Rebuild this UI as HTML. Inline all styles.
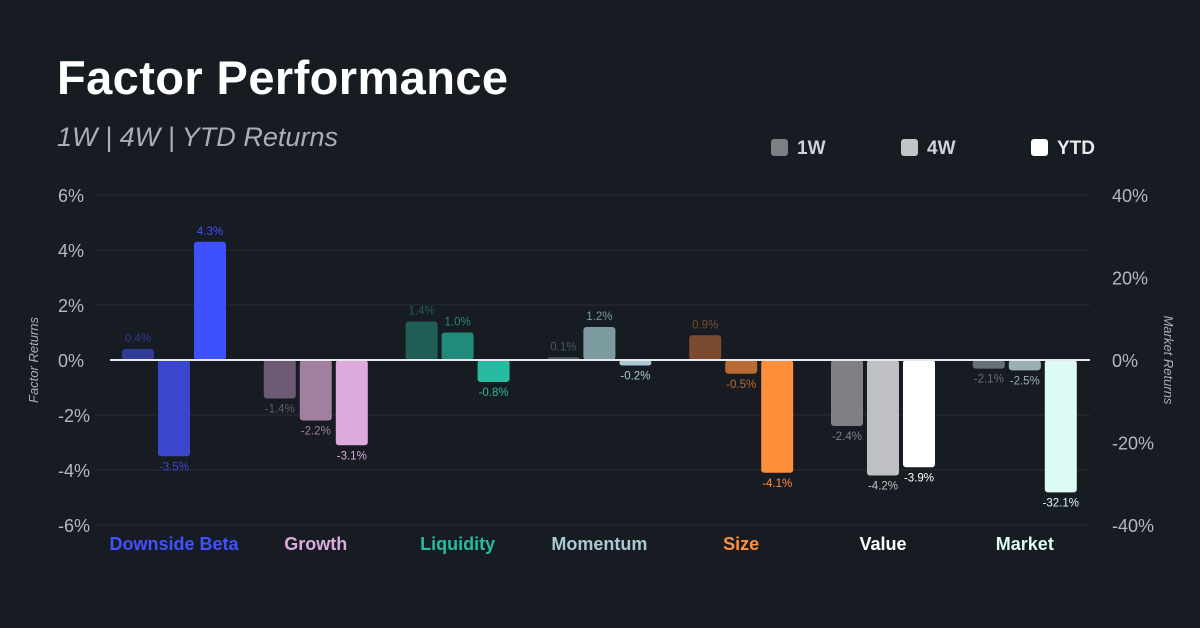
<!DOCTYPE html>
<html><head><meta charset="utf-8"><style>
html,body{margin:0;padding:0;background:#171b22;}
svg{display:block;font-family:"Liberation Sans",sans-serif;}
</style></head><body>
<svg id="c" width="1200" height="628" viewBox="0 0 1200 628">
<rect width="1200" height="628" fill="#171b22"/>
<text x="57" y="94" font-size="47" font-weight="bold" fill="#ffffff" textLength="451">Factor Performance</text>
<text x="57" y="146" font-size="27" font-style="italic" fill="#a9aeb8" textLength="281">1W | 4W | YTD Returns</text>
<g>
<g><rect x="771" y="139" width="17" height="17" rx="3" fill="#7d7f84"/><text x="797" y="154" font-size="19" font-weight="bold" fill="#cfd2d8">1W</text></g>
<g><rect x="901" y="139" width="17" height="17" rx="3" fill="#c3c4c8"/><text x="927" y="154" font-size="19" font-weight="bold" fill="#cfd2d8">4W</text></g>
<g><rect x="1031" y="139" width="17" height="17" rx="3" fill="#ffffff"/><text x="1057" y="154" font-size="19" font-weight="bold" fill="#e8eaee">YTD</text></g>
</g>
<text transform="translate(38,360) rotate(-90)" text-anchor="middle" font-size="13" font-style="italic" fill="#a9aeb8">Factor Returns</text>
<text transform="translate(1164,360) rotate(90)" text-anchor="middle" font-size="13" font-style="italic" fill="#a9aeb8">Market Returns</text>
<g id="grid"></g><g id="bars"></g><g id="labels"></g>
</svg>
<script>
const categories=["Downside Beta","Growth","Liquidity","Momentum","Size","Value","Market"];
const w1=[0.4,-1.4,1.4,0.1,0.9,-2.4,-2.1];
const w4=[-3.5,-2.2,1.0,1.2,-0.5,-4.2,-2.5];
const ytd=[4.3,-3.1,-0.8,-0.2,-4.1,-3.9,-32.1];
const leftTicks=[6,4,2,0,-2,-4,-6];
const rightTicks=[40,20,0,-20,-40];
const colors=[["#2f3b96","#3a46cc","#3f50ff"],["#6c5a75","#a1809f","#dcaadc"],["#1f5f58","#208b7b","#27bca2"],["#4b5a60","#7c9ba1","#a9c9d2"],["#7c4b2f","#b96b32","#ff8f3b"],["#7f8085","#bfc0c3","#ffffff"],["#687276","#9bb1b1","#defaf4"]];
const catColors=["#4051ff","#dcaadc","#27bca2","#a9c9d2","#ff8f3b","#ffffff","#defaf4"];
const NS="http://www.w3.org/2000/svg";
const y0=360;
const yL=v=>y0-v*27.5;
const yR=v=>y0-v*4.125;
const gx=i=>174+i*141.8;
function mk(tag,attrs,parent,txt){const e=document.createElementNS(NS,tag);for(const k in attrs)e.setAttribute(k,attrs[k]);if(txt!==undefined)e.textContent=txt;parent.appendChild(e);return e;}
const grid=document.getElementById('grid'),bars=document.getElementById('bars'),labels=document.getElementById('labels');
leftTicks.forEach(t=>{
  if(t!==0){const l=mk('line',{x1:95,x2:1090,y1:yL(t),y2:yL(t),stroke:'#232831','stroke-width':1.5},grid);
  
  }
  const tx=mk('text',{x:58,y:yL(t)+7,'font-size':18,fill:'#b4b8c0'},grid,t+'%');
  
  
});
rightTicks.forEach(t=>{
  const tx=mk('text',{x:1112,y:yR(t)+7,'font-size':18,fill:'#b4b8c0'},grid,t+'%');
  
  
});
const series=[w1,w4,ytd];
categories.forEach((c,i)=>{
  const sc=i===6?yR:yL;
  series.forEach((s,j)=>{
    const v=s[i];const x=gx(i)-52+j*36;const y=sc(v);
    const top=Math.min(y,y0),h=Math.max(Math.abs(y-y0),2);
    const r=mk('rect',{x:x,y:top,width:32,height:h,rx:3,fill:colors[i][j]},bars);
    
    
    const ly=v>=0?top-7:top+h+14;
    const lt=mk('text',{x:x+16,y:ly,'text-anchor':'middle','font-size':11.5,fill:colors[i][j]},labels,v.toFixed(1)+'%');
    
    
  });
  const ct=mk('text',{x:gx(i),y:550,'text-anchor':'middle','font-size':18,'font-weight':'bold',fill:catColors[i]},labels,c);
  
  
});
const z=mk('line',{x1:110,x2:1090,y1:y0,y2:y0,stroke:'#e6e8ec','stroke-width':2},labels);


</script>
</body></html>
